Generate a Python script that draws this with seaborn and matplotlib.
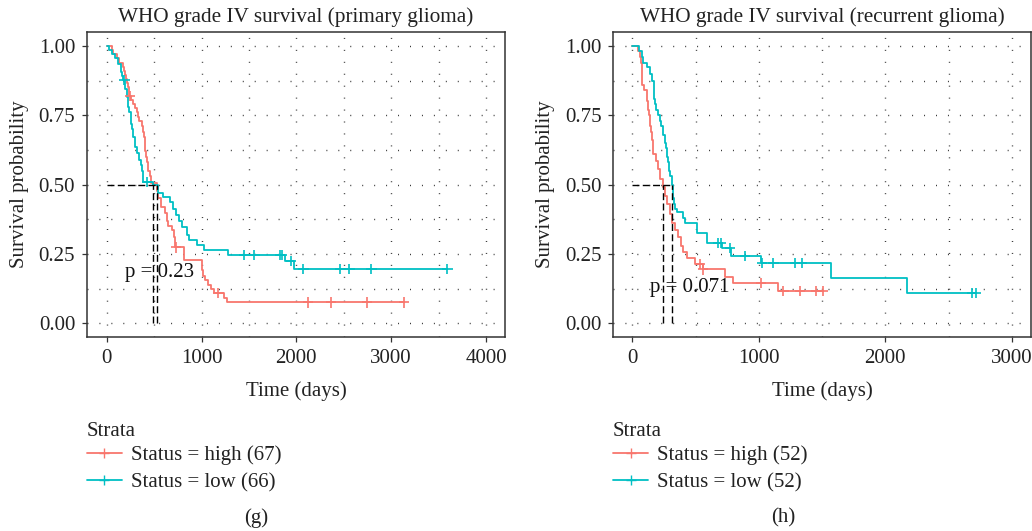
import numpy as np
import pandas as pd
import matplotlib
matplotlib.use("Agg")
import matplotlib.pyplot as plt
from matplotlib.lines import Line2D
import seaborn as sns

# ---- Kaplan-Meier step data (time in days, survival after each event) ----
# Primary glioma
prim_high_t = [0, 54, 70, 105, 133, 175, 185, 193, 205, 217, 228, 238, 255, 274, 298, 315,
               333, 345, 369, 380, 393, 400, 407, 415, 425, 439, 457, 470, 527, 545, 570,
               615, 640, 650, 686, 705, 720, 819, 1002, 1020, 1037, 1072, 1100, 1130, 1240, 1265]
prim_high_s = [1.0, 0.985, 0.97, 0.955, 0.94, 0.925, 0.91, 0.895, 0.88, 0.865, 0.85, 0.82,
               0.805, 0.79, 0.775, 0.76, 0.745, 0.73, 0.71, 0.69, 0.67, 0.655, 0.62, 0.60,
               0.58, 0.55, 0.53, 0.507, 0.478, 0.45, 0.42, 0.396, 0.37, 0.35, 0.336, 0.31,
               0.273, 0.228, 0.19, 0.17, 0.156, 0.138, 0.125, 0.11, 0.09, 0.075]
prim_high_cens = [246, 731, 1178, 2120, 2363, 2743, 3137]

prim_low_t = [0, 20, 52, 88, 123, 147, 160, 175, 193, 211, 225, 240, 253, 262, 274, 298,
              320, 344, 360, 369, 386, 492, 545, 597, 668, 703, 731, 766, 791, 844, 872,
              949, 1026, 1283, 1881, 1979]
prim_low_s = [1.0, 0.985, 0.97, 0.955, 0.935, 0.905, 0.89, 0.878, 0.845, 0.815, 0.78, 0.76,
              0.72, 0.70, 0.67, 0.635, 0.615, 0.587, 0.57, 0.55, 0.51, 0.50, 0.47, 0.455,
              0.437, 0.41, 0.39, 0.37, 0.347, 0.318, 0.30, 0.282, 0.264, 0.246, 0.225, 0.195]
prim_low_cens = [186, 428, 1448, 1557, 1828, 1846, 1941, 2074, 2464, 2559, 2791, 3593]

# Recurrent glioma
rec_high_t = [0, 45, 61, 68, 74, 80, 95, 114, 126, 133, 140, 146, 153, 160, 166, 185, 206,
              219, 240, 258, 277, 298, 316, 337, 359, 385, 403, 430, 496, 561, 733, 798, 1154]
rec_high_s = [1.0, 0.98, 0.96, 0.94, 0.90, 0.86, 0.84, 0.80, 0.77, 0.75, 0.71, 0.69, 0.66,
              0.63, 0.61, 0.585, 0.555, 0.52, 0.49, 0.46, 0.43, 0.395, 0.36, 0.335, 0.31,
              0.28, 0.258, 0.235, 0.213, 0.194, 0.168, 0.144, 0.117]
rec_high_cens = [535, 561, 1015, 1194, 1326, 1452, 1510]

rec_low_t = [0, 50, 74, 87, 114, 140, 158, 168, 174, 180, 185, 206, 220, 227, 245, 255, 264,
             272, 280, 290, 298, 311, 318, 324, 330, 337, 351, 403, 417, 509, 588, 707, 780,
             1017, 1571, 2169]
rec_low_s = [1.0, 0.98, 0.96, 0.94, 0.923, 0.90, 0.875, 0.84, 0.81, 0.79, 0.77, 0.75, 0.73,
             0.71, 0.68, 0.65, 0.63, 0.60, 0.58, 0.55, 0.53, 0.497, 0.47, 0.45, 0.43, 0.41,
             0.40, 0.38, 0.362, 0.326, 0.29, 0.27, 0.242, 0.216, 0.162, 0.108]
rec_low_cens = [680, 701, 772, 891, 1023, 1115, 1286, 1339, 2683, 2715]

# Median survival times (days) and log-rank p-values
prim_medians = [527, 492]
rec_medians = [240, 311]
prim_pval = "p = 0.23"
rec_pval = "p = 0.071"

strata = ["Status = high", "Status = low"]
prim_n = [67, 66]
rec_n = [52, 52]
palette = ["#F8766D", "#00BFC4"]


def curve_frame(times, surv, cens, label):
    end = max(times[-1], max(cens))
    t = list(times) + [end]
    s = list(surv) + [surv[-1]]
    steps = pd.DataFrame({"time": t, "surv": s, "strata": label})
    idx = np.searchsorted(np.asarray(times), np.asarray(cens), side="right") - 1
    marks = pd.DataFrame({"time": cens, "surv": np.asarray(surv)[idx], "strata": label})
    return steps, marks


sns.set_theme(style="white")
plt.rcParams["font.family"] = ["Liberation Serif", "DejaVu Serif"]
plt.rcParams["text.color"] = "#222222"

FS = 15

fig = plt.figure(figsize=(10.32, 5.31), dpi=100)
ax_l = fig.add_axes([0.0843, 0.3653, 0.405, 0.5744])
ax_r = fig.add_axes([0.5943, 0.3653, 0.4048, 0.5744])

panels = [
    (ax_l, "WHO grade IV survival (primary glioma)",
     [(prim_high_t, prim_high_s, prim_high_cens), (prim_low_t, prim_low_s, prim_low_cens)],
     prim_medians, prim_pval, (190, 0.182), (-208, 4200), [0, 1000, 2000, 3000, 4000],
     prim_n, 0.0843, "(g)", 0.2487),
    (ax_r, "WHO grade IV survival (recurrent glioma)",
     [(rec_high_t, rec_high_s, rec_high_cens), (rec_low_t, rec_low_s, rec_low_cens)],
     rec_medians, rec_pval, (140, 0.127), (-150, 3152), [0, 1000, 2000, 3000],
     rec_n, 0.5940, "(h)", 0.7587),
]

dot_style = (0, (0.7, 7.9))

for ax, title, curves, medians, pval, pxy, xlim, xt, ns, leg_x, cap, cap_x in panels:
    step_frames, mark_frames = [], []
    for (t, s, c), lab in zip(curves, strata):
        sf, mf = curve_frame(t, s, c, lab)
        step_frames.append(sf)
        mark_frames.append(mf)
    steps = pd.concat(step_frames, ignore_index=True)
    marks = pd.concat(mark_frames, ignore_index=True)

    # dotted grid, major + minor
    ax.set_xlim(*xlim)
    ax.set_ylim(-0.05, 1.05)
    ax.set_xticks(xt)
    ax.set_xticks(np.arange(0, xt[-1] + 1, 500), minor=True)
    ax.set_yticks([0, 0.25, 0.5, 0.75, 1.0])
    ax.set_yticks(np.arange(0, 1.01, 0.125), minor=True)
    ax.set_yticklabels(["0.00", "0.25", "0.50", "0.75", "1.00"])
    ax.grid(True, which="both", color="#333333", linewidth=1.0, linestyle=dot_style)
    ax.set_axisbelow(True)

    sns.lineplot(data=steps, x="time", y="surv", hue="strata", palette=palette,
                 estimator=None, sort=False, drawstyle="steps-post", linewidth=1.3,
                 legend=False, ax=ax)
    sns.scatterplot(data=marks, x="time", y="surv", hue="strata", palette=palette,
                    marker="+", s=55, linewidth=1.2, legend=False, ax=ax, zorder=3)

    # median survival guides
    ax.hlines(0.5, 0, max(medians), colors="black", linestyles=(0, (5, 2.4)), linewidth=1.0)
    ax.vlines(medians, 0, 0.5, colors="black", linestyles=(0, (5, 2.4)), linewidth=1.0)

    ax.text(pxy[0], pxy[1], pval, ha="left", va="center", fontsize=FS, color="#111111")

    ax.set_title(title, fontsize=15.3, pad=7, color="#222222")
    ax.set_xlabel("Time (days)", fontsize=FS, labelpad=10, color="#222222")
    ax.set_ylabel("Survival probability", fontsize=FS, labelpad=7, color="#222222")
    ax.tick_params(axis="both", which="major", length=3.5, width=0.9, color="#333333",
                   labelsize=FS, labelcolor="#222222", direction="out", pad=5,
                   bottom=True, left=True)
    ax.tick_params(which="minor", length=0)
    for sp in ax.spines.values():
        sp.set_color("#333333")
        sp.set_linewidth(1.1)

    # strata legend below each panel
    fig.text(leg_x, 1 - 431 / 531, "Strata", ha="left", va="center", fontsize=FS,
             color="#222222")
    handles = [Line2D([0], [0], color=col, lw=1.3, marker="+", markersize=7, mew=1.0)
               for col in palette]
    labels = [f"{lab} ({n})" for lab, n in zip(strata, ns)]
    fig.legend(handles, labels, loc="upper left",
               bbox_to_anchor=(leg_x, 0.1616), frameon=False, fontsize=FS,
               handlelength=1.68, handletextpad=0.42,
               labelspacing=0.36, borderpad=0, borderaxespad=0)

    fig.text(cap_x, 0.025, cap, ha="center", va="center", fontsize=FS, color="#222222")

fig.savefig("out.png", dpi=100)
